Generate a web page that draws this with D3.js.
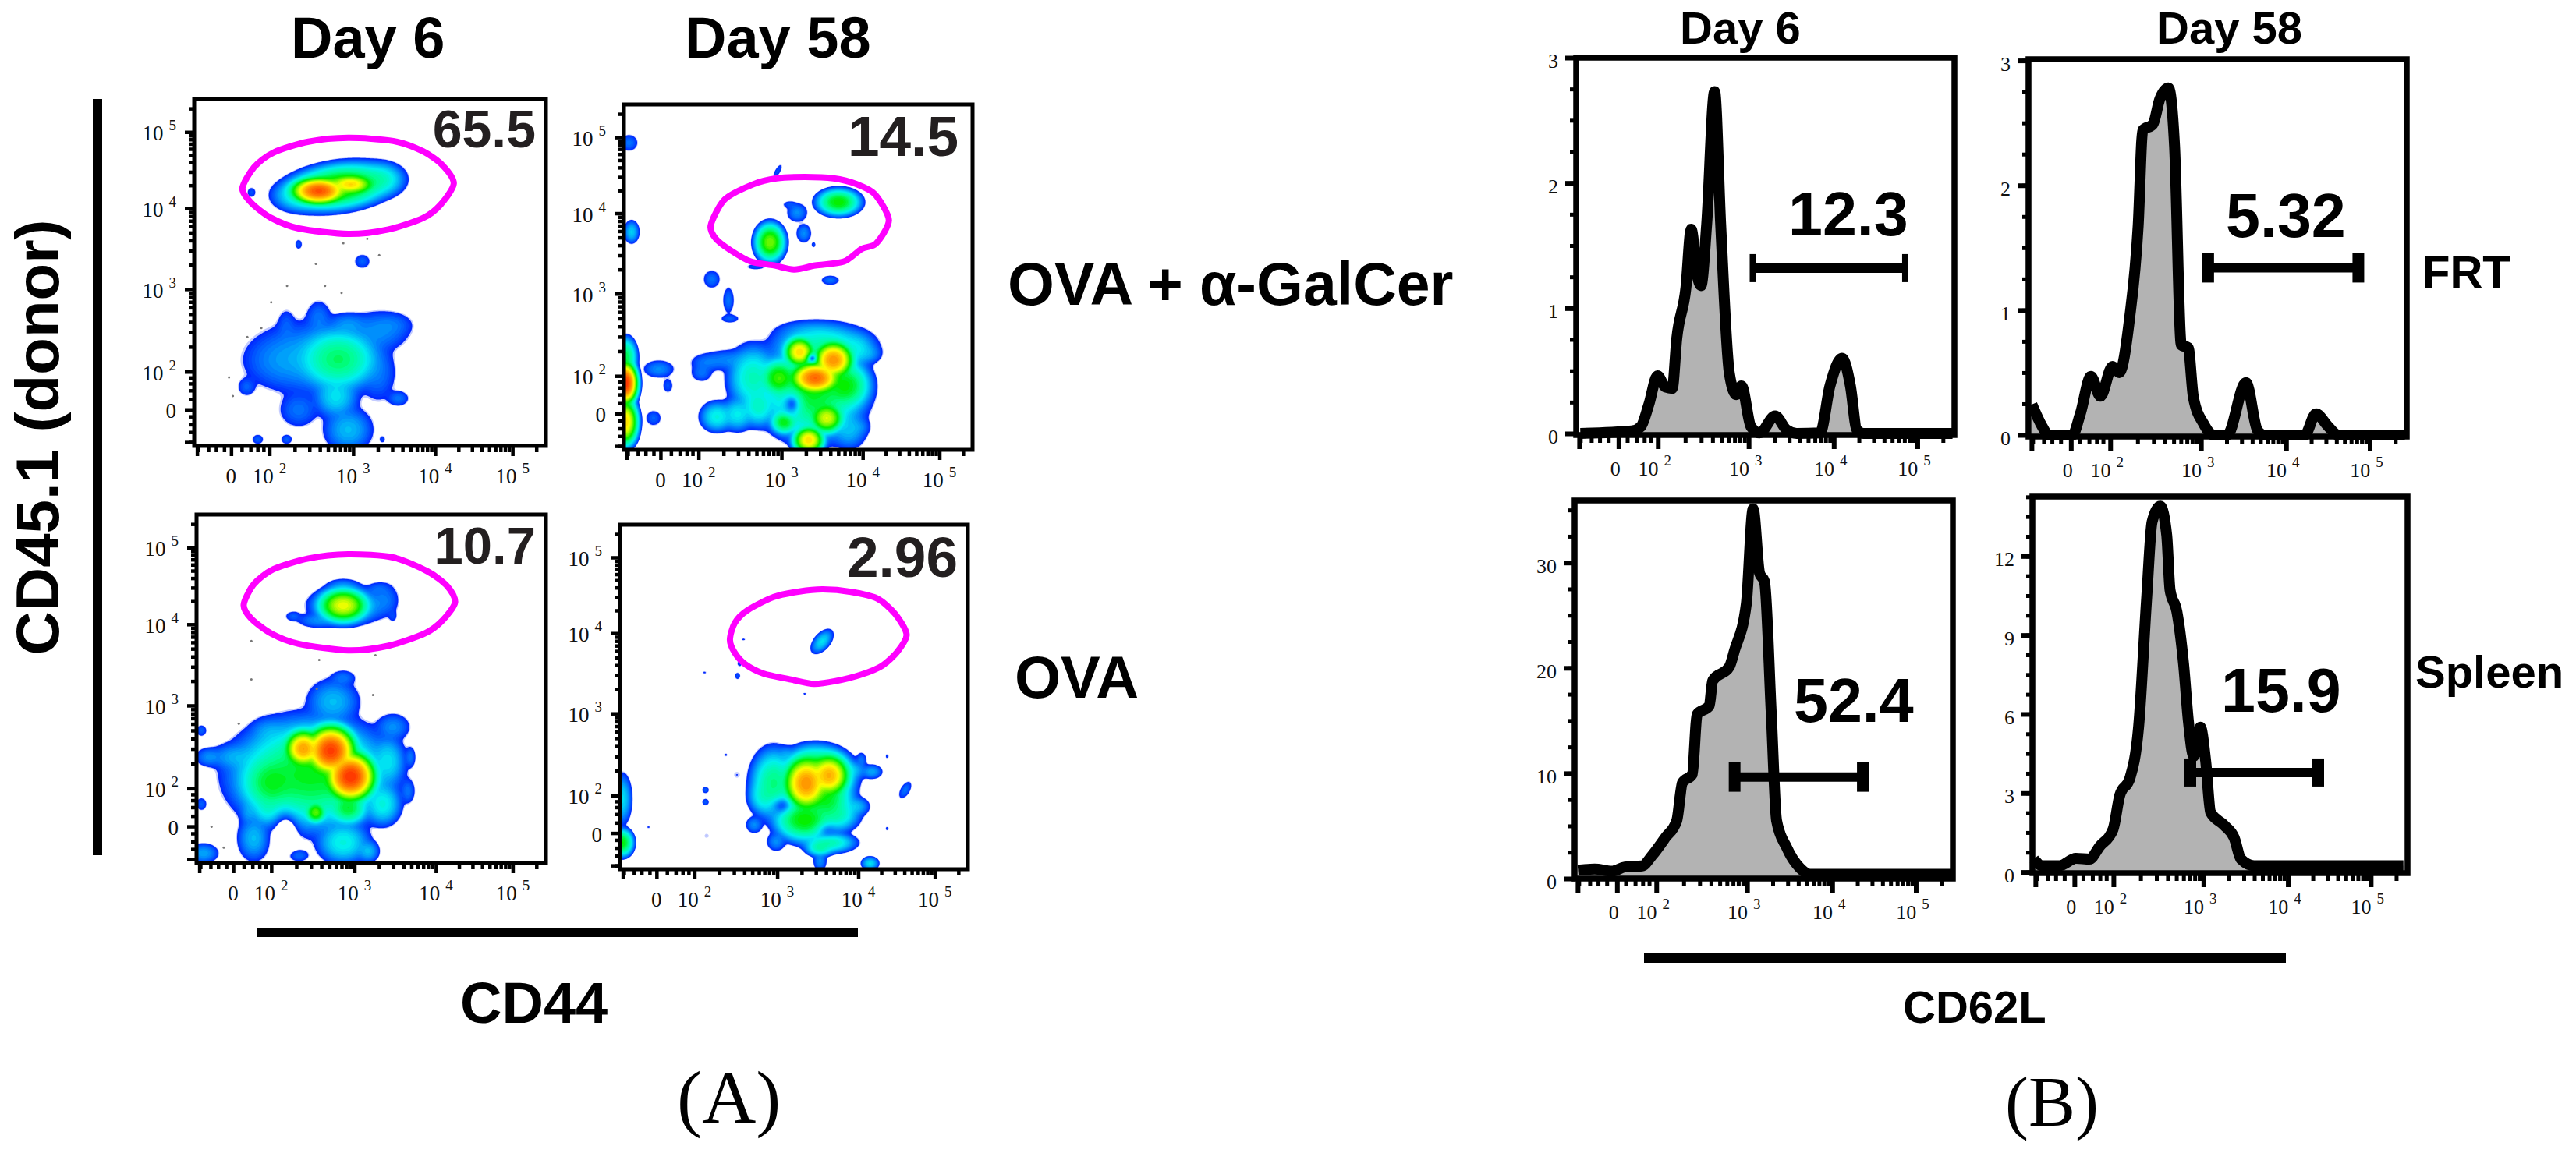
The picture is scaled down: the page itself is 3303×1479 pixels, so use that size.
<!DOCTYPE html>
<html>
<head>
<meta charset="utf-8">
<script src="https://cdn.jsdelivr.net/npm/d3@7"></script>
<style>
  html, body { margin: 0; background: #fff; }
  svg { display: block; }
  text { font-family: "Liberation Sans", Arial, sans-serif; }
  .serif { font-family: "Liberation Serif", "Times New Roman", serif; }
</style>
</head>
<body>
<div id="chart"></div>
<script>
// flow plots use a display channel 0-1000 on both axes, tick positions
const flowTicks = [105, 214, 452, 685, 905];
const flowTickLabels = ["0", "10|2", "10|3", "10|4", "10|5"];
const histTicks = [112, 216, 456, 681, 902];
const lowMinor = [11, 40, 62, 85, 135, 160, 180, 197];

// density spots: [x channel, y channel, x reach, y reach, peak density, tilt degrees]
const a1Blobs = [
  [410, 747, 194, 81, 0.2, 8], [354, 735, 110, 55, 0.85], [445, 754, 90, 40, 0.4],
  [300, 722, 85, 52, 0.06], [530, 768, 78, 56, 0.07],
  [163, 731, 12, 14, 0.02], [297, 581, 10, 14, 0.02], [478, 532, 22, 20, 0.022],
  [410, 250, 140, 110, 0.11], [325, 255, 170, 110, 0.035], [240, 245, 95, 70, 0.025],
  [523, 330, 90, 60, 0.03], [566, 350, 50, 30, 0.022], [354, 369, 35, 50, 0.025],
  [262, 350, 22, 40, 0.02], [438, 350, 60, 35, 0.03], [149, 170, 24, 25, 0.022],
  [580, 137, 30, 22, 0.025], [403, 142, 70, 70, 0.05], [297, 104, 55, 50, 0.025],
  [438, 47, 75, 70, 0.04], [523, 208, 50, 80, 0.025],
  [181, 19, 16, 14, 0.022], [263, 19, 16, 14, 0.022], [535, 19, 8, 10, 0.018]
];
const a1Holes = [];
const a1Dots = [[424, 584], [492, 597], [526, 550], [346, 525], [264, 461], [372, 461], [419, 441], [219, 414], [191, 340], [151, 314], [99, 198], [110, 144]];
const a1Gate = [[137, 742], [170, 803], [226, 846], [325, 877], [438, 888], [566, 879], [651, 849], [707, 808], [738, 756], [700, 695], [651, 657], [552, 624], [438, 611], [297, 627], [219, 657], [163, 700]];

const a2Blobs = [
  [15, 889, 25, 24, 0.025], [22, 631, 24, 36, 0.045],
  [616, 717, 78, 48, 0.16], [419, 601, 55, 70, 0.22], [378, 530, 25, 8, 0.02],
  [497, 687, 30, 28, 0.03], [516, 627, 22, 28, 0.03], [544, 594, 6, 8, 0.02], [475, 710, 18, 10, 0.02],
  [441, 807, 8, 22, 0.02, -30], [252, 494, 24, 26, 0.025], [592, 491, 26, 14, 0.025],
  [300, 433, 16, 38, 0.025], [304, 380, 26, 12, 0.022],
  [5, 193, 48, 85, 1], [5, 81, 48, 90, 0.4], [5, 268, 40, 70, 0.12],
  [100, 234, 45, 26, 0.03], [126, 186, 14, 20, 0.02], [85, 92, 22, 22, 0.022],
  [237, 253, 45, 25, 0.025], [297, 260, 70, 30, 0.028], [223, 223, 30, 25, 0.025],
  [267, 96, 55, 50, 0.06], [326, 103, 55, 55, 0.055], [371, 208, 85, 110, 0.075], [386, 126, 60, 70, 0.07],
  [445, 208, 70, 70, 0.18], [460, 81, 50, 45, 0.15], [530, 28, 60, 55, 0.4],
  [549, 208, 100, 65, 0.75], [601, 260, 80, 75, 0.6], [504, 283, 60, 60, 0.4],
  [582, 92, 65, 60, 0.3], [636, 186, 90, 90, 0.15], [570, 300, 165, 76, 0.08], [534, 343, 100, 32, 0.03],
  [668, 290, 60, 55, 0.05], [705, 279, 35, 28, 0.03], [645, 58, 55, 60, 0.04], [675, 66, 30, 25, 0.025],
  [540, 170, 180, 170, 0.14]
];
const a2Holes = [[482, 133, 30, 36, 0.78], [540, 265, 16, 14, 0.8]];
const a2Dots = [];
const a2Gate = [[249, 650], [289, 725], [371, 769], [438, 786], [519, 790], [601, 786], [668, 769], [720, 740], [760, 665], [723, 597], [682, 582], [631, 545], [549, 534], [490, 522], [430, 534], [364, 545], [304, 579], [263, 612]];

const a3Blobs = [
  [420, 739, 95, 65, 0.32], [434, 739, 125, 60, 0.05], [277, 708, 22, 14, 0.022], [349, 696, 60, 22, 0.03],
  [540, 757, 38, 45, 0.025], [562, 708, 10, 14, 0.018], [519, 786, 30, 18, 0.022], [420, 794, 50, 22, 0.03],
  [384, 322, 100, 100, 0.95], [441, 248, 100, 100, 1], [306, 328, 75, 75, 0.55],
  [327, 255, 270, 190, 0.14], [213, 230, 110, 110, 0.13], [206, 157, 60, 60, 0.06], [341, 145, 40, 40, 0.2],
  [434, 157, 70, 60, 0.13], [533, 169, 60, 70, 0.06], [548, 292, 55, 80, 0.05], [562, 390, 50, 40, 0.03],
  [420, 531, 35, 22, 0.025], [391, 463, 80, 70, 0.04], [107, 304, 70, 40, 0.035], [36, 304, 40, 28, 0.03],
  [206, 377, 50, 40, 0.03], [164, 71, 50, 70, 0.04], [420, 59, 85, 70, 0.06], [292, 22, 30, 18, 0.025],
  [491, 34, 35, 35, 0.04], [20, 28, 45, 30, 0.035], [14, 380, 15, 16, 0.022], [14, 169, 15, 18, 0.022],
  [149, 145, 25, 35, 0.03], [605, 206, 20, 35, 0.025], [612, 304, 15, 30, 0.025]
];
const a3Holes = [[256, 90, 36, 56, 0.98]];
const a3Dots = [[157, 637], [157, 527], [351, 583], [512, 596], [121, 400], [505, 482], [43, 104], [78, 44], [344, 500]];
const a3Gate = [[135, 741], [164, 800], [220, 843], [320, 874], [434, 886], [562, 877], [661, 837], [718, 794], [740, 748], [704, 696], [654, 659], [548, 623], [434, 610], [292, 629], [213, 659], [156, 702]];

const a4Blobs = [
  [581, 661, 45, 25, 0.05, 50], [355, 667, 6, 4, 0.016], [344, 597, 7, 9, 0.018], [338, 561, 8, 10, 0.02],
  [243, 571, 6, 4, 0.016], [531, 509, 6, 4, 0.016],
  [7, 204, 30, 80, 0.05], [7, 77, 40, 50, 0.15],
  [304, 332, 5, 5, 0.016], [336, 274, 8, 8, 0.0145], [246, 230, 10, 10, 0.022], [246, 195, 10, 10, 0.022],
  [82, 122, 6, 4, 0.016], [249, 97, 6, 6, 0.0145], [820, 230, 28, 14, 0.025, 60], [768, 328, 5, 7, 0.017], [768, 118, 5, 6, 0.017],
  [719, 17, 28, 22, 0.05],
  [535, 249, 90, 110, 0.6], [601, 272, 80, 85, 0.5], [568, 272, 130, 100, 0.22], [590, 204, 100, 90, 0.14],
  [531, 144, 110, 80, 0.16], [442, 249, 80, 120, 0.1], [412, 212, 50, 60, 0.06], [620, 159, 80, 60, 0.08],
  [680, 182, 40, 30, 0.04], [601, 77, 90, 35, 0.08], [575, 62, 50, 30, 0.08], [575, 24, 20, 30, 0.03],
  [449, 80, 28, 28, 0.03], [386, 129, 25, 25, 0.03], [557, 339, 70, 32, 0.035], [479, 332, 25, 25, 0.03],
  [694, 317, 15, 22, 0.025], [724, 283, 32, 22, 0.035], [664, 287, 50, 30, 0.04], [590, 115, 60, 40, 0.03]
];
const a4Holes = [[594, 114, 30, 22, 0.45], [464, 185, 30, 25, 0.6]];
const a4Dots = [];
const a4Gate = [[316, 666], [330, 715], [367, 752], [442, 790], [516, 806], [583, 812], [664, 805], [739, 786], [791, 741], [824, 681], [798, 632], [754, 591], [694, 565], [620, 546], [557, 538], [494, 550], [412, 568], [360, 595], [330, 628]];

// histograms: x in display channel, y in axis units
const b1X = [11, 147, 171, 192, 215, 236, 254, 266, 290, 304, 320, 330, 345, 366, 382, 405, 423, 437, 462, 485, 526, 556, 583, 645, 671, 703, 725, 742, 760, 995];
const b1Y = [0, 0.02, 0.055, 0.23, 0.46, 0.37, 0.36, 0.76, 1.16, 1.63, 1.26, 1.18, 1.67, 2.73, 1.67, 0.48, 0.31, 0.38, 0.055, 0.005, 0.14, 0.03, 0, 0.005, 0.38, 0.6, 0.38, 0.03, 0, 0];
const b2X = [9, 36, 53, 116, 137, 165, 190, 222, 240, 267, 290, 302, 329, 347, 370, 386, 404, 422, 436, 463, 489, 525, 575, 605, 623, 730, 760, 792, 819, 995];
const b2Y = [0.245, 0.07, 0, 0, 0.17, 0.47, 0.31, 0.55, 0.5, 0.93, 1.68, 2.44, 2.49, 2.69, 2.78, 2.32, 0.72, 0.7, 0.3, 0.09, 0, 0, 0.42, 0.04, 0, 0, 0.17, 0.07, 0, 0];
const b3X = [9, 53, 98, 133, 178, 205, 240, 270, 285, 311, 324, 356, 365, 409, 423, 454, 472, 489, 502, 520, 534, 560, 596, 623, 996];
const b3Y = [0.8, 0.9, 0.7, 1.1, 1.2, 2.2, 3.9, 5.5, 9.1, 9.9, 15.6, 16.4, 18.8, 20.1, 21.7, 26.1, 35.1, 29, 28.2, 15.6, 5.5, 3, 1, 0.4, 0.4];
const b4X = [4, 27, 72, 116, 152, 179, 215, 233, 260, 283, 305, 319, 341, 358, 367, 385, 403, 416, 430, 448, 462, 475, 511, 538, 556, 591, 989];
const b4Y = [0.49, 0.24, 0.24, 0.52, 0.49, 0.97, 1.62, 2.92, 3.57, 5.5, 10.5, 13.3, 13.9, 12.8, 10.7, 9.9, 7.9, 5.7, 4.4, 5.5, 4.2, 2.27, 1.78, 1.3, 0.49, 0.24, 0.24];

const b1Ticks = [0, 1, 2, 3], b2Ticks = [0, 1, 2, 3];
const b3Ticks = [0, 10, 20, 30], b4Ticks = [0, 3, 6, 9, 12];

// density outer edge, and colour by log density (1 = densest)
const EDGE = 0.013;
const levelColor = d3.scaleLinear()
  .domain([0.055, 0.075, 0.2, 0.36, 0.48, 0.58, 0.75, 0.88, 1])
  .range(["#c4ccff", "#0028ff", "#0078ff", "#00f0f0", "#00ff90", "#00f000", "#ffff00", "#ff9000", "#ff2800"]);
const levels = d3.range(0.055, 1.001, 0.022);

const svg = d3.select("#chart").append("svg").attr("width", 3303).attr("height", 1479);

function styleAxis(g, width) {
  g.select(".domain").remove();
  g.selectAll("line").attr("stroke", "#000").attr("stroke-width", width);
  g.selectAll("text").remove();
}

function decadeMinors(ticks) {
  const out = [];
  for (let i = 1; i < ticks.length; i++) {
    const next = i + 1 < ticks.length ? ticks[i + 1] : ticks[i] + 225;
    d3.range(2, 10).forEach(m => {
      const c = ticks[i] + (next - ticks[i]) * Math.log10(m);
      if (c < 1000) out.push(c);
    });
  }
  return out;
}

function tickText(g, attrs, fontSize, supSize, label) {
  const t = g.append("text").attr("class", "serif").attr("font-size", fontSize)
    .attr("fill", "#111").attr("x", attrs.x).attr("y", attrs.y).attr("text-anchor", attrs.anchor);
  const parts = label.split("|");
  t.append("tspan").text(parts[0]);
  if (parts[1]) t.append("tspan").attr("font-size", supSize).attr("dx", 7).attr("dy", -13).text(parts[1]);
}

// spots are merged with a soft maximum so overlaps keep the colour of the densest one
function densityField(blobs, holes, n) {
  const step = 1000 / n, p = 3;
  const rows = blobs.map(b => {
    const k = Math.sqrt(2 * Math.log(b[4] / EDGE));
    const a = (b[5] || 0) * Math.PI / 180;
    return { x: b[0], y: b[1], sx: b[2] / k, sy: b[3] / k, p: b[4], c: Math.cos(a), s: Math.sin(a) };
  });
  const field = new Float64Array(n * n);
  for (let j = 0; j < n; j++) {
    for (let i = 0; i < n; i++) {
      const cx = (i + 0.5) * step, cy = (j + 0.5) * step;
      let sum = 0;
      rows.forEach(r => {
        const dx = cx - r.x, dy = cy - r.y;
        const u = (dx * r.c + dy * r.s) / r.sx, v = (-dx * r.s + dy * r.c) / r.sy;
        const e = (u * u + v * v) / 2;
        if (e < 12) sum += Math.pow(r.p * Math.exp(-e), p);
      });
      let f = Math.pow(sum, 1 / p);
      holes.forEach(h => {
        const u = (cx - h[0]) / (h[2] / 1.5), v = (cy - h[1]) / (h[3] / 1.5);
        f *= 1 - h[4] * Math.exp(-(u * u + v * v) / 2);
      });
      field[j * n + i] = f;
    }
  }
  return field;
}

let clipId = 0;
function flowPanel(frame, blobs, holes, dots, gate, value, labelEnd, labelBase, labelSize) {
  const x = d3.scaleLinear().domain([0, 1000]).range([frame.l, frame.r]);
  const y = d3.scaleLinear().domain([0, 1000]).range([frame.b, frame.t]);
  const g = svg.append("g");

  clipId++;
  svg.append("clipPath").attr("id", "clip" + clipId).append("rect")
    .attr("x", frame.l).attr("y", frame.t).attr("width", frame.r - frame.l).attr("height", frame.b - frame.t);

  const n = 250, step = 1000 / n;
  const field = densityField(blobs, holes, n);
  const contours = d3.contours().size([n, n]).thresholds(levels.map(l => Math.pow(10, 2 * (l - 1))))(field);
  const path = d3.geoPath(d3.geoTransform({
    point(px, py) { this.stream.point(x(px * step), y(py * step)); }
  }));
  g.append("g").attr("clip-path", `url(#clip${clipId})`)
    .selectAll("path").data(contours).join("path")
    .attr("d", path)
    .attr("fill", (d, i) => levelColor(levels[i]));

  g.append("g").selectAll("circle").data(dots).join("circle")
    .attr("cx", d => x(d[0])).attr("cy", d => y(d[1])).attr("r", 1.5).attr("fill", "#777");

  const gateLine = d3.line().x(d => x(d[0])).y(d => y(d[1])).curve(d3.curveCardinalClosed.tension(0.2));
  g.append("path").attr("d", gateLine(gate)).attr("fill", "none").attr("stroke", "#ff00ff").attr("stroke-width", 8);

  g.append("rect").attr("x", frame.l).attr("y", frame.t).attr("width", frame.r - frame.l).attr("height", frame.b - frame.t)
    .attr("fill", "none").attr("stroke", "#000").attr("stroke-width", 5);

  const minors = lowMinor.concat(decadeMinors(flowTicks));
  g.append("g").attr("transform", `translate(0,${frame.b})`)
    .call(d3.axisBottom(x).tickValues(minors).tickSize(8).tickFormat("")).call(a => styleAxis(a, 4.5));
  g.append("g").attr("transform", `translate(0,${frame.b})`)
    .call(d3.axisBottom(x).tickValues([8].concat(flowTicks)).tickSize(13).tickFormat("")).call(a => styleAxis(a, 4.5));
  g.append("g").attr("transform", `translate(${frame.l},0)`)
    .call(d3.axisLeft(y).tickValues(minors).tickSize(7).tickFormat("")).call(a => styleAxis(a, 4.5));
  g.append("g").attr("transform", `translate(${frame.l},0)`)
    .call(d3.axisLeft(y).tickValues([11].concat(flowTicks)).tickSize(12).tickFormat("")).call(a => styleAxis(a, 4.5));

  flowTickLabels.forEach((lab, i) => {
    tickText(g, { x: x(flowTicks[i]), y: frame.b + 48, anchor: "middle" }, 27, 19, lab);
    tickText(g, { x: frame.l - 23, y: y(flowTicks[i]) + 11, anchor: "end" }, 27, 19, lab);
  });

  g.append("text").attr("x", labelEnd).attr("y", labelBase).attr("text-anchor", "end")
    .attr("font-weight", "bold").attr("font-size", labelSize).attr("fill", "#231f20").text(value);
}

function histPanel(frame, xs, ys, yTicks, yMax, minorStep, gate, value, labelX, labelBase) {
  const x = d3.scaleLinear().domain([0, 1000]).range([frame.l, frame.r]);
  const y = d3.scaleLinear().domain([0, yMax]).range([frame.zero, frame.t]);
  const g = svg.append("g");
  const pts = xs.map((v, i) => [v, ys[i]]);

  const area = d3.area().x(d => x(d[0])).y0(y(0)).y1(d => y(d[1])).curve(d3.curveMonotoneX);
  const line = d3.line().x(d => x(d[0])).y(d => y(d[1])).curve(d3.curveMonotoneX);
  g.append("path").attr("d", area(pts)).attr("fill", "#b3b3b3");
  g.append("path").attr("d", line(pts)).attr("fill", "none").attr("stroke", "#000")
    .attr("stroke-width", 14).attr("stroke-linejoin", "round");

  g.append("rect").attr("x", frame.l).attr("y", frame.t).attr("width", frame.r - frame.l).attr("height", frame.b - frame.t)
    .attr("fill", "none").attr("stroke", "#000").attr("stroke-width", 7.5);

  const minors = lowMinor.concat(decadeMinors(histTicks));
  g.append("g").attr("transform", `translate(0,${frame.b})`)
    .call(d3.axisBottom(x).tickValues(minors).tickSize(10).tickFormat("")).call(a => styleAxis(a, 5));
  g.append("g").attr("transform", `translate(0,${frame.b})`)
    .call(d3.axisBottom(x).tickValues([8].concat(histTicks)).tickSize(18).tickFormat("")).call(a => styleAxis(a, 6));
  g.append("g").attr("transform", `translate(${frame.l},0)`)
    .call(d3.axisLeft(y).tickValues(d3.range(0, yMax, minorStep)).tickSize(8).tickFormat("")).call(a => styleAxis(a, 5));
  g.append("g").attr("transform", `translate(${frame.l},0)`)
    .call(d3.axisLeft(y).tickValues(yTicks).tickSize(14).tickFormat("")).call(a => styleAxis(a, 6));

  flowTickLabels.forEach((lab, i) => {
    tickText(g, { x: x(histTicks[i]) - 4, y: frame.b + 52, anchor: "middle" }, 26, 19, lab);
  });
  yTicks.forEach(t => {
    tickText(g, { x: frame.l - 23, y: y(t) + 13, anchor: "end" }, 26, 19, String(t));
  });

  // percent marker
  g.append("line").attr("x1", x(gate[0])).attr("x2", x(gate[1])).attr("y1", y(gate[2])).attr("y2", y(gate[2]))
    .attr("stroke", "#000").attr("stroke-width", 12);
  [gate[0], gate[1]].forEach(c => {
    g.append("line").attr("x1", x(c)).attr("x2", x(c)).attr("y1", y(gate[2]) - gate[3]).attr("y2", y(gate[2]) + gate[3])
      .attr("stroke", "#000").attr("stroke-width", gate[4]);
  });

  g.append("text").attr("x", labelX).attr("y", labelBase).attr("font-weight", "bold").attr("font-size", 79)
    .attr("fill", "#000").text(value);
}

flowPanel({ l: 249, r: 700, t: 127, b: 572 }, a1Blobs, a1Holes, a1Dots, a1Gate, "65.5", 687, 189, 68);
flowPanel({ l: 800, r: 1247, t: 134, b: 577 }, a2Blobs, a2Holes, a2Dots, a2Gate, "14.5", 1229, 200, 73);
flowPanel({ l: 252, r: 700, t: 660, b: 1107 }, a3Blobs, a3Holes, a3Dots, a3Gate, "10.7", 687, 723, 67);
flowPanel({ l: 795, r: 1241, t: 673, b: 1115 }, a4Blobs, a4Holes, a4Dots, a4Gate, "2.96", 1228, 740, 73);

histPanel({ l: 2021, r: 2506, t: 74, b: 558, zero: 556 }, b1X, b1Y, b1Ticks, 3, 0.25, [467, 870, 1.32, 18, 8], "12.3", 2293, 302);
histPanel({ l: 2601, r: 3086, t: 76, b: 560, zero: 558 }, b2X, b2Y, b2Ticks, 3.01, 0.25, [475, 872, 1.34, 19, 15], "5.32", 2854, 304);
histPanel({ l: 2019, r: 2504, t: 642, b: 1127, zero: 1127 }, b3X, b3Y, b3Ticks, 35.9, 2.5, [423, 762, 9.65, 19, 15], "52.4", 2300, 926);
histPanel({ l: 2606, r: 3087, t: 637, b: 1120, zero: 1118.6 }, b4X, b4Y, b4Ticks, 14.26, 0.75, [421, 762, 3.78, 18, 15], "15.9", 2848, 913);

// bars
[[119, 127, 12, 970], [329, 1190, 771, 12], [2108, 1222, 823, 13]].forEach(r => {
  svg.append("rect").attr("x", r[0]).attr("y", r[1]).attr("width", r[2]).attr("height", r[3]).attr("fill", "#000");
});

// titles and side labels
const labels = [
  ["Day 6", 373, 74, 74], ["Day 58", 878, 74, 74], ["OVA + α-GalCer", 1292, 391, 77], ["OVA", 1301, 895, 76], ["CD44", 590, 1312, 74],
  ["Day 6", 2154, 56, 58], ["Day 58", 2765, 56, 58], ["FRT", 3106, 369, 58], ["Spleen", 3097, 882, 58], ["CD62L", 2440, 1312, 58]
];
svg.selectAll("text.lab").data(labels).join("text").attr("class", "lab")
  .attr("x", d => d[1]).attr("y", d => d[2]).attr("font-size", d => d[3])
  .attr("font-weight", "bold").attr("fill", "#000").text(d => d[0]);

svg.append("text").attr("transform", "translate(75,561) rotate(-90)").attr("text-anchor", "middle")
  .attr("font-weight", "bold").attr("font-size", 78).text("CD45.1 (donor)");
svg.append("text").attr("class", "serif").attr("x", 868).attr("y", 1440).attr("font-size", 96).text("(A)");
svg.append("text").attr("class", "serif").attr("x", 2571).attr("y", 1444).attr("font-size", 90).text("(B)");
</script>
</body>
</html>
